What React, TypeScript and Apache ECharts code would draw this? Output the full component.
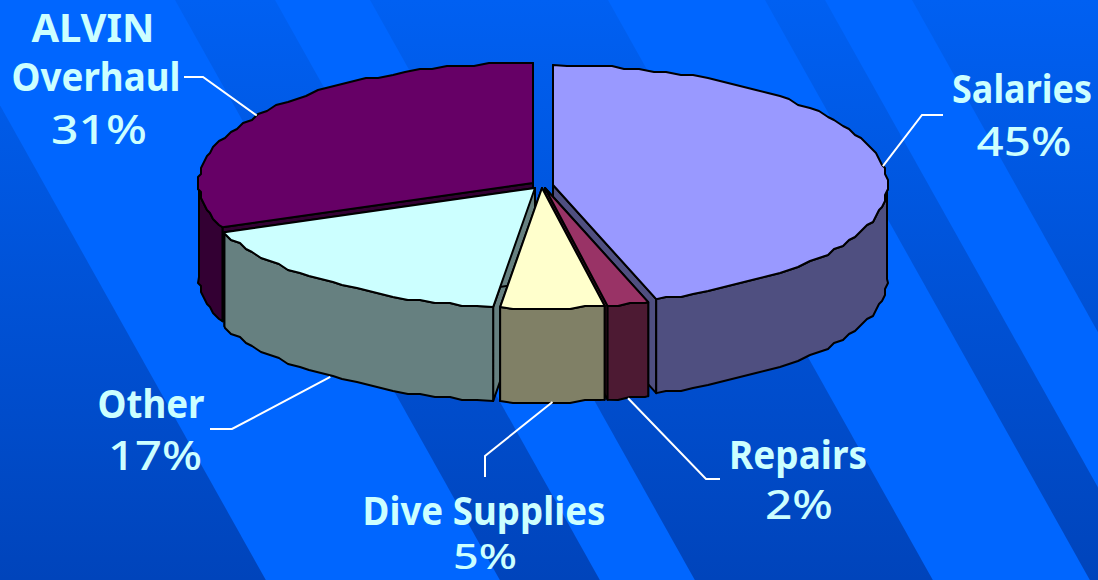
import React, { useEffect, useRef } from "react";
import * as echarts from "echarts";

// ---- data
const categories = ["Salaries", "Repairs", "Dive Supplies", "Other", "ALVIN Overhaul"];
const shares = [45, 2, 5, 17, 31];
const drawOrder = [4, 0, 3, 1, 2]; // painter's order, back to front

// ---- styles
const topColors = ["#9999FF", "#993366", "#FFFFCC", "#CCFFFF", "#660066"];
const wallColors = ["#4F4F80", "#4D1A33", "#808066", "#668080", "#330033"];
const textColor = "#CCFFFF";
const FONT = "'Noto Sans'";

// ---- layout
const W = 1098, H = 580;
const RX = 334, RY = 120, DEPTH = 94;
const centres = [[553, 185], [545, 188], [542, 188], [535, 188], [533, 183]];
const leaderElbows = [
  [[922, 115], [943, 115]],
  [[706, 479], [720, 479]],
  [[485, 456], [485, 477]],
  [[232, 429], [210, 429]],
  [[203, 77], [184, 77]],
];
// each text line: text source, centre x, vertical centre y, target width, weight, font size
const labelLines: any[][] = [
  [["Salaries", 1022, 88, 140, 700, 39], ["%", 1024, 141, 95, 500, 39]],
  [["Repairs", 798, 454, 138, 700, 39], ["%", 799, 504, 68, 500, 39]],
  [["Dive Supplies", 484, 510, 243, 700, 39], ["%", 485, 556, 64, 500, 34]],
  [["Other", 151, 403, 107, 700, 39], ["%", 155, 455, 94, 500, 39]],
  [["ALVIN", 93, 27, 123, 700, 39], ["Overhaul", 96, 76, 169, 700, 39], ["%", 99, 129, 96, 500, 39]],
];
const SLOPE = 0.56;
const stripes = [[-900, -59], [175, 275], [370, 608], [765, 825], [912, 1500]];

const total = shares.reduce((a, b) => a + b, 0);
const startAngles = shares.map((_, i) =>
  (shares.slice(0, i).reduce((a, b) => a + b, 0) / total) * 360
);

const snap = (v: number) => Math.round(v / 3) * 3;
const pt = (c: number[], deg: number, dy = 0) => {
  const r = (deg * Math.PI) / 180;
  return [c[0] + RX * Math.sin(r), c[1] - RY * Math.cos(r) + dy];
};
const STEP = 2.5;
function arc(c: number[], a0: number, a1: number, dy = 0) {
  const pts = [pt(c, a0, dy)];
  const first = Math.ceil(a0 / STEP + 0.2);
  for (let k = first; k * STEP < a1 - 0.5; k++) {
    const p = pt(c, k * STEP);
    pts.push([snap(p[0]), snap(p[1]) + dy]);
  }
  pts.push(pt(c, a1, dy));
  return pts;
}

const ctx = document.createElement("canvas").getContext("2d")!;
function fitScale(text: string, font: string, target: number) {
  ctx.font = font;
  return target / ctx.measureText(text).width;
}

function renderSlice(_: any, api: any) {
  const i = api.value(0);
  const a0 = api.value(1);
  const a1 = a0 + (api.value(2) / total) * 360;
  const c = centres[i];
  const line = { stroke: "#000", lineWidth: 2, lineJoin: "round" };
  const wallStyle = { fill: wallColors[i], ...line };
  const kids: any[] = [];
  const wall = (deg: number) => {
    const e = pt(c, deg);
    kids.push({
      type: "polygon",
      shape: { points: [c, e, [e[0], e[1] + DEPTH], [c[0], c[1] + DEPTH]] },
      style: wallStyle,
    });
  };
  wall(a0);
  wall(a1);
  const w0 = Math.max(a0, 90), w1 = Math.min(a1, 270);
  if (w1 > w0) {
    const up = arc(c, w0, w1);
    const down = arc(c, w0, w1, DEPTH).reverse();
    kids.push({ type: "polygon", shape: { points: [...up, ...down] }, style: wallStyle });
  }
  kids.push({
    type: "polygon",
    shape: { points: [c, ...arc(c, a0, a1)] },
    style: { fill: topColors[i], ...line },
  });
  return { type: "group", children: kids };
}

function renderLabel(_: any, api: any) {
  const i = api.value(0);
  const mid = api.value(1) + (api.value(2) / total) * 180;
  const c = centres[i];
  const anchor = pt(c, mid, mid > 90 && mid < 270 ? DEPTH : 0);
  const kids: any[] = [
    {
      type: "polyline",
      shape: { points: [anchor, ...leaderElbows[i]] },
      style: { stroke: "#FFFFFF", lineWidth: 2, fill: "none" },
    },
  ];
  for (const [src, x, y, width, weight, size] of labelLines[i]) {
    const text = src === "%" ? `${api.value(2)}%` : src;
    const font = `${weight} ${size}px ${FONT}`;
    kids.push({
      type: "text",
      x,
      y,
      scaleX: fitScale(text, font, width),
      style: {
        text,
        fill: textColor,
        font,
        textAlign: "center",
        textVerticalAlign: "middle",
      },
    });
  }
  return { type: "group", children: kids };
}

export default function App() {
  const ref = useRef<HTMLDivElement>(null);
  useEffect(() => {
    document.body.style.margin = "0";
    const chart = echarts.init(ref.current!, undefined, { renderer: "svg" });
    const dark = new echarts.graphic.LinearGradient(
      0, 0, 0, H,
      [
        { offset: 0, color: "#0060F2" },
        { offset: 1, color: "#0044BB" },
      ],
      true
    );
    chart.setOption({
      animation: false,
      backgroundColor: "#0066FF",
      graphic: stripes.map(([x0, x1]) => ({
        type: "polygon",
        z: 0,
        silent: true,
        shape: {
          points: [
            [x0, 0],
            [x1, 0],
            [x1 + SLOPE * H, H],
            [x0 + SLOPE * H, H],
          ],
        },
        style: { fill: dark },
      })),
      series: [
        {
          type: "custom",
          coordinateSystem: "none",
          z: 2,
          silent: true,
          renderItem: renderSlice,
          data: drawOrder.map((i) => [i, startAngles[i], shares[i]]),
        },
        {
          type: "custom",
          coordinateSystem: "none",
          z: 3,
          silent: true,
          renderItem: renderLabel,
          data: categories.map((_, i) => [i, startAngles[i], shares[i]]),
        },
      ],
    });
    return () => chart.dispose();
  }, []);
  return <div ref={ref} style={{ width: W, height: H }} />;
}
